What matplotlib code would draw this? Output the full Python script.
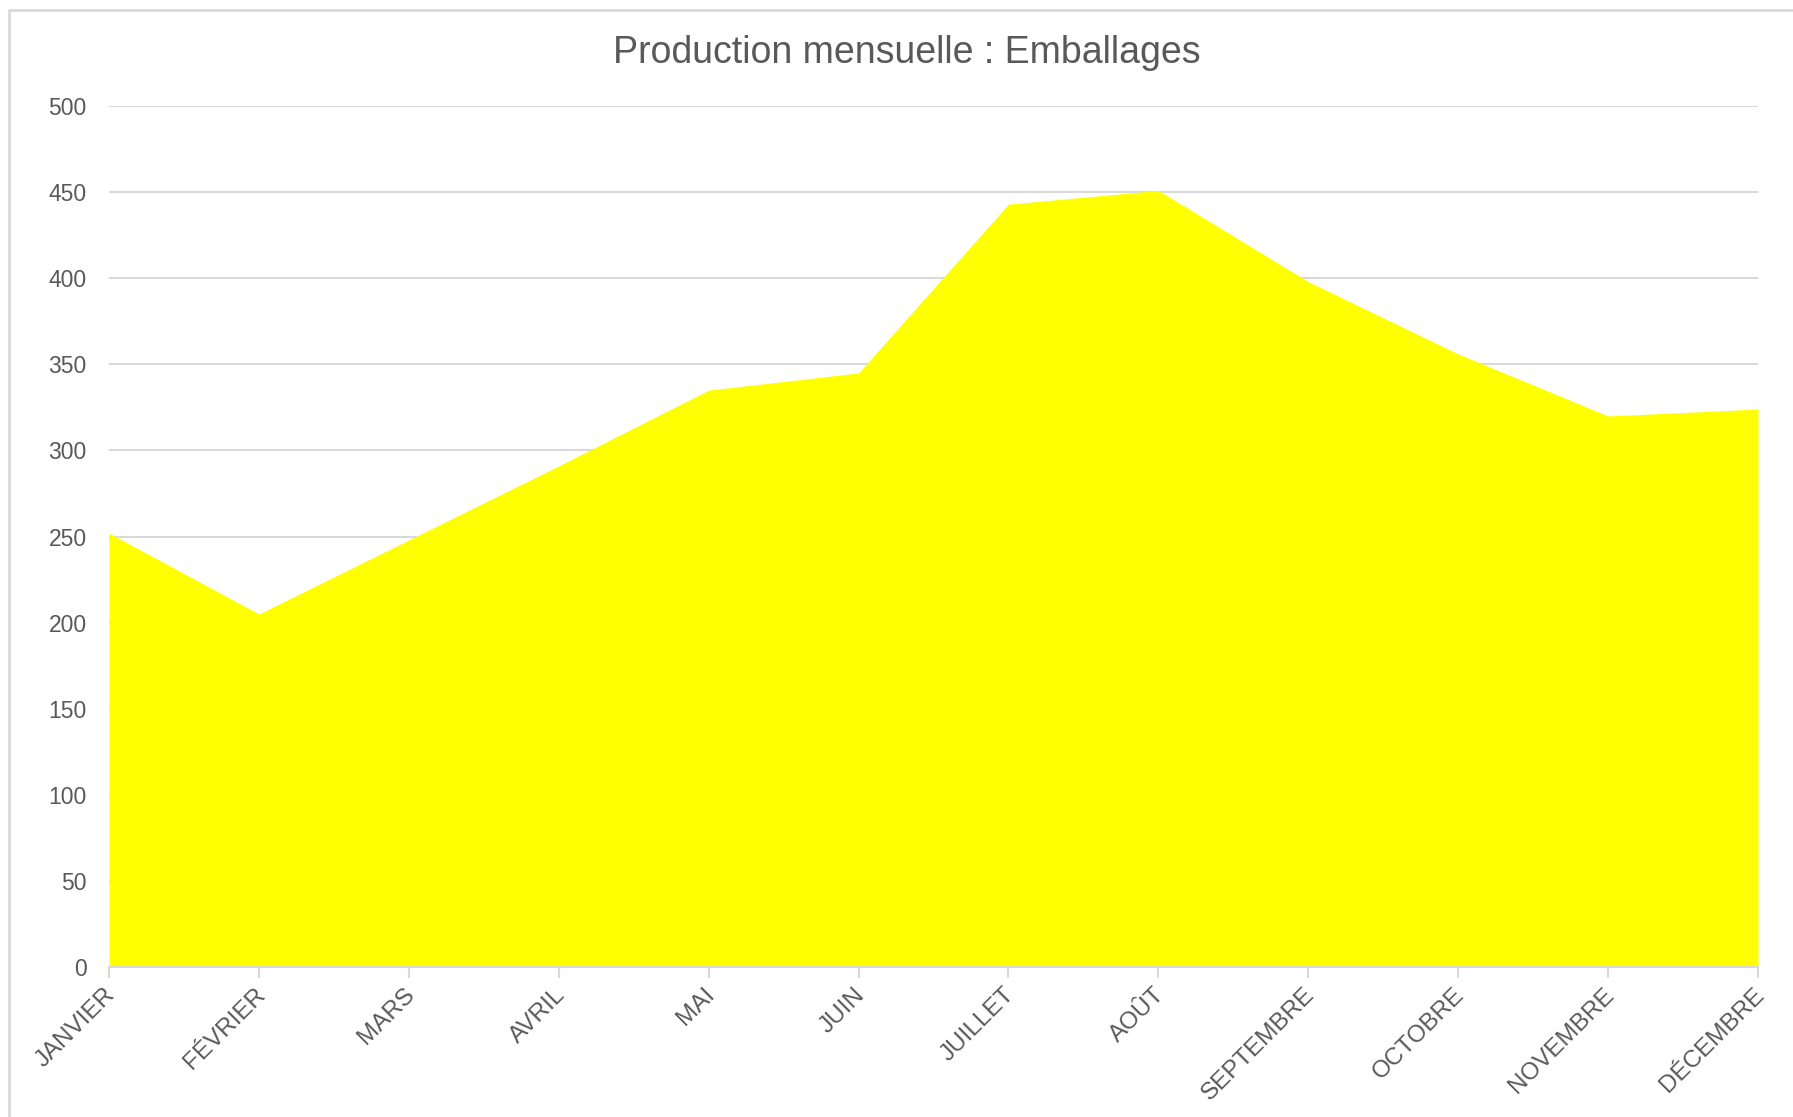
import numpy as np
import matplotlib.pyplot as plt
import matplotlib.transforms as mtransforms
from matplotlib.lines import Line2D

plt.rcParams['font.family'] = ['Liberation Sans', 'DejaVu Sans']

# Monthly values
mois = ['JANVIER', 'FÉVRIER', 'MARS', 'AVRIL', 'MAI', 'JUIN', 'JUILLET',
        'AOÛT', 'SEPTEMBRE', 'OCTOBRE', 'NOVEMBRE', 'DÉCEMBRE']
production = [252, 205, 248, 291, 335, 345, 443, 451, 398, 356, 320, 324]
y_ticks = [0, 50, 100, 150, 200, 250, 300, 350, 400, 450, 500]

text_color = '#595959'
grid_color = '#d9d9d9'

fig = plt.figure(figsize=(17.93, 11.17), dpi=100)
ax = fig.add_axes([109 / 1793, 1 - 967 / 1117, (1758 - 109) / 1793, (967 - 106) / 1117])

x = np.arange(len(mois))
ax.fill_between(x, 0, production, color='#ffff00', linewidth=0, zorder=2)

ax.set_xlim(0, len(mois) - 1)
ax.set_ylim(0, 500)
ax.set_yticks(y_ticks)
ax.set_xticks(x)
ax.set_xticklabels(mois, rotation=45, ha='right', va='top', rotation_mode='anchor')

ax.grid(axis='y', color=grid_color, linewidth=1.5, zorder=1)
ax.set_axisbelow(True)
for side in ['left', 'right', 'top']:
    ax.spines[side].set_visible(False)
ax.spines['bottom'].set_color(grid_color)
ax.spines['bottom'].set_linewidth(1.5)
ax.spines['bottom'].set_zorder(3)

ax.tick_params(axis='y', length=0, pad=16, labelsize=16.5, labelcolor=text_color)
ax.tick_params(axis='x', length=8, width=1.5, color=grid_color, pad=4,
               labelsize=17.5, labelcolor=text_color)

# nudge rotated labels a little left so their end sits on the tick
shift = mtransforms.ScaledTranslation(-5 / 100, 0, fig.dpi_scale_trans)
for lab in ax.get_xticklabels():
    lab.set_transform(lab.get_transform() + shift)

fig.text(907 / 1793, 1 - 53 / 1117, 'Production mensuelle : Emballages',
         ha='center', va='center', fontsize=27, color=text_color)

# Light border of the chart area (only left and top edges are visible)
fig.lines.append(Line2D([9 / 1793, 9 / 1793, 1.0], [0.0, 1 - 10 / 1117, 1 - 10 / 1117],
                        transform=fig.transFigure, color=grid_color, linewidth=2))

plt.savefig('out.png', dpi=100)
